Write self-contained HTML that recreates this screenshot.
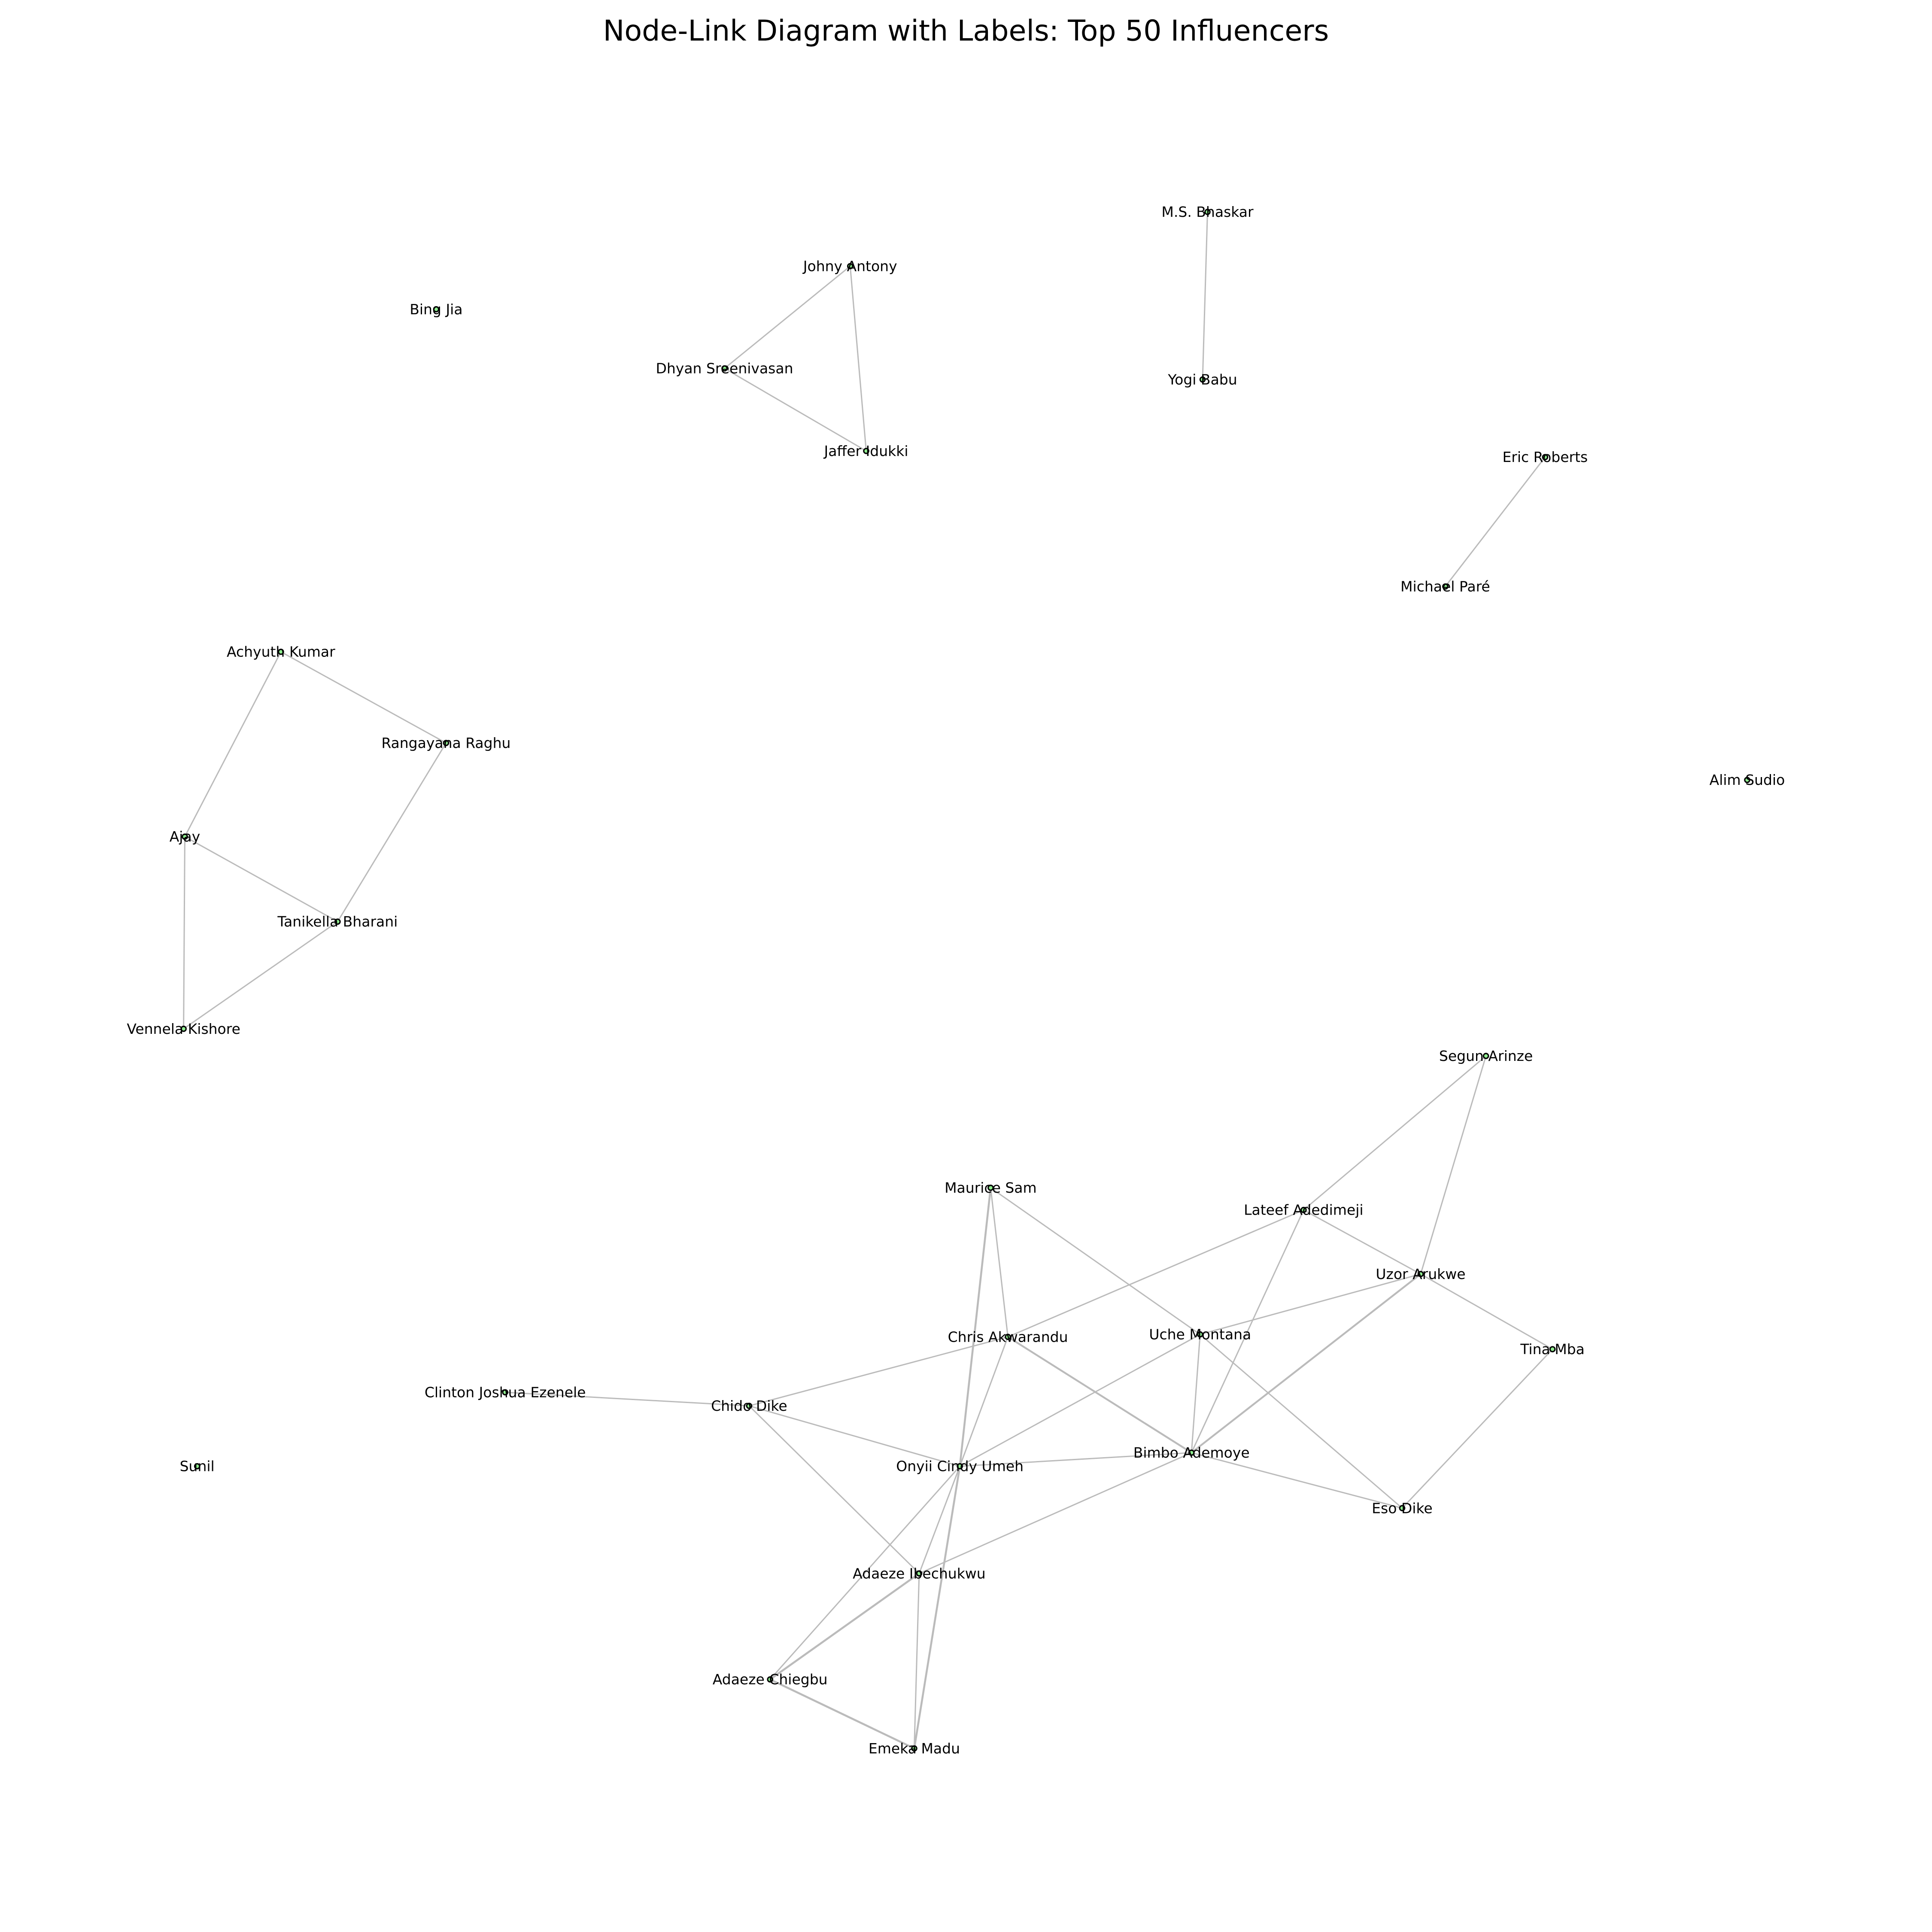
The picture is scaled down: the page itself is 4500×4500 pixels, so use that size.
<!DOCTYPE html>
<html><head><meta charset="utf-8"><style>html,body{margin:0;padding:0;background:#fff}svg{display:block}</style></head>
<body>
<svg width="4500" height="4500" viewBox="0 0 1568 1568" xmlns="http://www.w3.org/2000/svg">
<rect width="1568" height="1568" fill="#fff"/>
<text x="784" y="33" font-family="DejaVu Sans, Liberation Sans, sans-serif" font-size="23.2" text-anchor="middle" fill="#000">Node-Link Diagram with Labels: Top 50 Influencers</text>
<g stroke="#bbb" stroke-width="1.05" fill="none">
<line x1="980" y1="172" x2="976" y2="308"/>
<line x1="690" y1="216" x2="588" y2="299"/>
<line x1="690" y1="216" x2="703" y2="366"/>
<line x1="588" y1="299" x2="703" y2="366"/>
<line x1="1254" y1="371" x2="1173" y2="476"/>
<line x1="228" y1="529" x2="362" y2="603"/>
<line x1="228" y1="529" x2="150" y2="679"/>
<line x1="362" y1="603" x2="274" y2="748"/>
<line x1="150" y1="679" x2="274" y2="748"/>
<line x1="150" y1="679" x2="149" y2="835"/>
<line x1="274" y1="748" x2="149" y2="835"/>
<line x1="1206" y1="857" x2="1058" y2="982"/>
<line x1="1206" y1="857" x2="1153" y2="1034"/>
<line x1="1058" y1="982" x2="1153" y2="1034"/>
<line x1="1058" y1="982" x2="818" y2="1085"/>
<line x1="1058" y1="982" x2="967" y2="1179"/>
<line x1="1153" y1="1034" x2="1260" y2="1095"/>
<line x1="1153" y1="1034" x2="974" y2="1083"/>
<line x1="1153" y1="1034" x2="967" y2="1179" stroke-width="1.5"/>
<line x1="804" y1="964" x2="818" y2="1085"/>
<line x1="804" y1="964" x2="779" y2="1190" stroke-width="1.6"/>
<line x1="804" y1="964" x2="974" y2="1083"/>
<line x1="974" y1="1083" x2="1138" y2="1224"/>
<line x1="818" y1="1085" x2="608" y2="1141"/>
<line x1="818" y1="1085" x2="779" y2="1190"/>
<line x1="818" y1="1085" x2="967" y2="1179" stroke-width="1.5"/>
<line x1="974" y1="1083" x2="779" y2="1190"/>
<line x1="974" y1="1083" x2="967" y2="1179"/>
<line x1="1260" y1="1095" x2="1138" y2="1224"/>
<line x1="967" y1="1179" x2="1138" y2="1224"/>
<line x1="967" y1="1179" x2="779" y2="1190"/>
<line x1="967" y1="1179" x2="746" y2="1277"/>
<line x1="608" y1="1141" x2="410" y2="1130"/>
<line x1="608" y1="1141" x2="779" y2="1190"/>
<line x1="608" y1="1141" x2="746" y2="1277"/>
<line x1="779" y1="1190" x2="625" y2="1363"/>
<line x1="779" y1="1190" x2="746" y2="1277"/>
<line x1="779" y1="1190" x2="742" y2="1419" stroke-width="1.6"/>
<line x1="746" y1="1277" x2="742" y2="1419"/>
<line x1="746" y1="1277" x2="625" y2="1363" stroke-width="1.6"/>
<line x1="625" y1="1363" x2="742" y2="1419" stroke-width="1.6"/>
</g>
<g fill="#90ee90" stroke="#000" stroke-width="1.1">
<circle cx="980" cy="172" r="2"/><circle cx="976" cy="308" r="2"/><circle cx="690" cy="216" r="2"/><circle cx="588" cy="299" r="2"/><circle cx="703" cy="366" r="2"/><circle cx="354" cy="251" r="2"/><circle cx="1254" cy="371" r="2"/><circle cx="1173" cy="476" r="2"/><circle cx="228" cy="529" r="2"/><circle cx="362" cy="603" r="2"/><circle cx="150" cy="679" r="2"/><circle cx="274" cy="748" r="2"/><circle cx="149" cy="835" r="2"/><circle cx="1418" cy="633" r="2"/><circle cx="1206" cy="857" r="2"/><circle cx="804" cy="964" r="2"/><circle cx="1058" cy="982" r="2"/><circle cx="1153" cy="1034" r="2"/><circle cx="818" cy="1085" r="2"/><circle cx="974" cy="1083" r="2"/><circle cx="1260" cy="1095" r="2"/><circle cx="410" cy="1130" r="2"/><circle cx="608" cy="1141" r="2"/><circle cx="779" cy="1190" r="2"/><circle cx="967" cy="1179" r="2"/><circle cx="1138" cy="1224" r="2"/><circle cx="160" cy="1190" r="2"/><circle cx="746" cy="1277" r="2"/><circle cx="625" cy="1363" r="2"/><circle cx="742" cy="1419" r="2"/>
</g>
<g font-family="DejaVu Sans, Liberation Sans, sans-serif" font-size="11.5" text-anchor="middle" dominant-baseline="central" fill="#000">
<text x="980" y="172">M.S. Bhaskar</text>
<text x="976" y="308">Yogi Babu</text>
<text x="690" y="216">Johny Antony</text>
<text x="588" y="299">Dhyan Sreenivasan</text>
<text x="703" y="366">Jaffer Idukki</text>
<text x="354" y="251">Bing Jia</text>
<text x="1254" y="371">Eric Roberts</text>
<text x="1173" y="476">Michael Paré</text>
<text x="228" y="529">Achyuth Kumar</text>
<text x="362" y="603">Rangayana Raghu</text>
<text x="150" y="679">Ajay</text>
<text x="274" y="748">Tanikella Bharani</text>
<text x="149" y="835">Vennela Kishore</text>
<text x="1418" y="633">Alim Sudio</text>
<text x="1206" y="857">Segun Arinze</text>
<text x="804" y="964">Maurice Sam</text>
<text x="1058" y="982">Lateef Adedimeji</text>
<text x="1153" y="1034">Uzor Arukwe</text>
<text x="818" y="1085">Chris Akwarandu</text>
<text x="974" y="1083">Uche Montana</text>
<text x="1260" y="1095">Tina Mba</text>
<text x="410" y="1130">Clinton Joshua Ezenele</text>
<text x="608" y="1141">Chido Dike</text>
<text x="779" y="1190">Onyii Cindy Umeh</text>
<text x="967" y="1179">Bimbo Ademoye</text>
<text x="1138" y="1224">Eso Dike</text>
<text x="160" y="1190">Sunil</text>
<text x="746" y="1277">Adaeze Ibechukwu</text>
<text x="625" y="1363">Adaeze Chiegbu</text>
<text x="742" y="1419">Emeka Madu</text>
</g>
</svg>
</body></html>
